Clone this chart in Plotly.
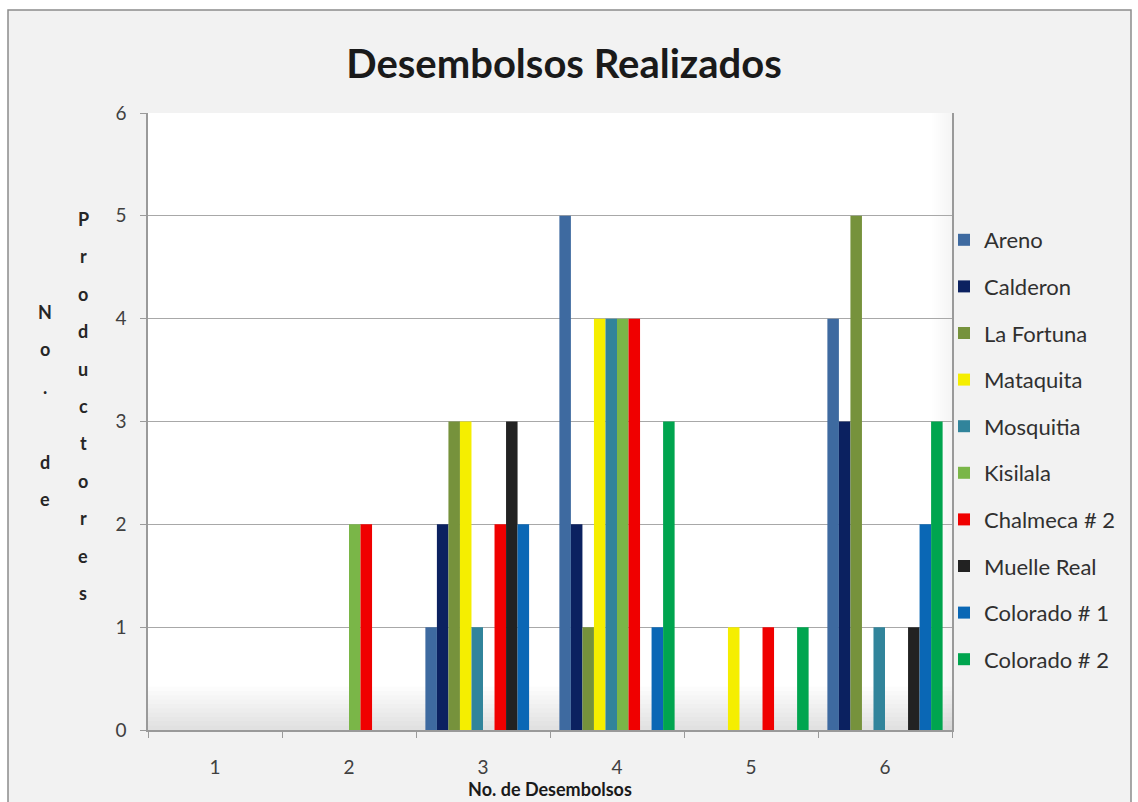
import plotly.graph_objects as go

# Número de desembolsos (categorías del eje X)
desembolsos = ["1", "2", "3", "4", "5", "6"]

# Productores por grupo para cada número de desembolsos
areno = [0, 0, 1, 5, 0, 4]
calderon = [0, 0, 2, 2, 0, 3]
la_fortuna = [0, 0, 3, 1, 0, 5]
mataquita = [0, 0, 3, 4, 1, 0]
mosquitia = [0, 0, 1, 4, 0, 1]
kisilala = [0, 2, 0, 4, 0, 0]
chalmeca_2 = [0, 2, 2, 4, 1, 0]
muelle_real = [0, 0, 3, 0, 0, 1]
colorado_1 = [0, 0, 2, 1, 0, 2]
colorado_2 = [0, 0, 0, 3, 1, 3]

y_ticks = [0, 1, 2, 3, 4, 5, 6]

series = [
    ("Areno", areno, "#3E6AA0"),
    ("Calderon", calderon, "#0B2160"),
    ("La Fortuna", la_fortuna, "#76923C"),
    ("Mataquita", mataquita, "#F5EE00"),
    ("Mosquitia", mosquitia, "#31849B"),
    ("Kisilala", kisilala, "#7AB648"),
    ("Chalmeca # 2", chalmeca_2, "#F00000"),
    ("Muelle Real", muelle_real, "#222222"),
    ("Colorado # 1", colorado_1, "#0A67B5"),
    ("Colorado # 2", colorado_2, "#00A54F"),
]

W, H = 1138, 802
L, R, T, B = 148, 952, 113, 730  # plot area in pixels
FONT = "Lato, 'Open Sans', sans-serif"


def px_x(x):
    return (x - L) / (R - L)


def px_y(y):
    return (B - y) / (B - T)


fig = go.Figure()
for i, (name, vals, color) in enumerate(series):
    fig.add_trace(go.Bar(
        name=name, x=desembolsos, y=vals,
        marker=dict(color=color, line=dict(width=0)),
        legendgroup=f"g{i}",
    ))

shapes = []
# chart frame with light gray fill
shapes.append(dict(type="rect", xref="paper", yref="paper",
                   x0=px_x(8), x1=px_x(1131), y0=px_y(803), y1=px_y(10),
                   fillcolor="#F2F2F2", line=dict(color="#8C8C8C", width=1.5),
                   layer="below"))
# white plot wall
shapes.append(dict(type="rect", xref="paper", yref="paper",
                   x0=0, x1=1, y0=0, y1=1,
                   fillcolor="white", line=dict(width=0), layer="below"))
# floor shading at the base of the plot area
n = 10
for k in range(n):
    shapes.append(dict(type="rect", xref="paper", yref="y",
                       x0=0, x1=1, y0=0, y1=0.42 * (k + 1) / n,
                       fillcolor="rgba(160,160,160,0.03)", line=dict(width=0),
                       layer="below"))
# soft shading along the right wall
for k in range(n):
    shapes.append(dict(type="rect", xref="paper", yref="paper",
                       x0=1 - 0.025 * (k + 1) / n, x1=1, y0=0, y1=1,
                       fillcolor="rgba(170,170,170,0.012)", line=dict(width=0),
                       layer="below"))

annotations = []
# stacked vertical Y-axis title
col1 = "No. de"
col2 = "Productores"
step = 37.4
for j, ch in enumerate(col1):
    if ch.strip():
        annotations.append(dict(xref="paper", yref="paper", x=px_x(45),
                                y=px_y(312 + j * step), text=f"<b>{ch}</b>",
                                showarrow=False, xanchor="center", yanchor="middle",
                                font=dict(family=FONT, size=18, color="#262626")))
for j, ch in enumerate(col2):
    annotations.append(dict(xref="paper", yref="paper", x=px_x(83),
                            y=px_y(219 + j * step), text=f"<b>{ch}</b>",
                            showarrow=False, xanchor="center", yanchor="middle",
                            font=dict(family=FONT, size=18, color="#262626")))

fig.update_layout(
    width=W, height=H,
    margin=dict(l=L, r=W - R, t=T, b=H - B),
    paper_bgcolor="white",
    plot_bgcolor="rgba(0,0,0,0)",
    font=dict(family=FONT, size=19, color="#404040"),
    title=dict(text="<b>Desembolsos Realizados</b>", x=564 / W, xref="container",
               xanchor="center", y=1 - 64 / H, yref="container", yanchor="middle",
               font=dict(family=FONT, size=40, color="#1A1A1A")),
    barmode="group",
    bargap=0.14,
    bargroupgap=0,
    showlegend=True,
    legend=dict(x=px_x(944), y=px_y(219), xanchor="left", yanchor="top",
                bgcolor="rgba(0,0,0,0)", tracegroupgap=15,
                font=dict(family=FONT, size=22, color="#303030"),
                itemwidth=30),
    xaxis=dict(type="category", showline=True, linecolor="#9A9A9A", linewidth=1.5,
               ticks="outside", tickson="boundaries", ticklen=6, tickcolor="#9A9A9A",
               showgrid=False, ticklabelstandoff=19,
               tickfont=dict(family=FONT, size=19, color="#404040"),
               title=dict(text="<b>No. de Desembolsos</b>", standoff=1,
                          font=dict(family=FONT, size=18, color="#1A1A1A"))),
    yaxis=dict(range=[0, 6], tickvals=y_ticks, showline=True, mirror=True,
               linecolor="#9A9A9A", linewidth=1.5, showgrid=True,
               gridcolor="#A8A8A8", gridwidth=1, zeroline=False,
               ticks="outside", ticklen=6, tickcolor="#9A9A9A",
               ticklabelstandoff=10,
               tickfont=dict(family=FONT, size=19, color="#404040")),
    shapes=shapes,
    annotations=annotations,
)

fig.write_html("out.html")
